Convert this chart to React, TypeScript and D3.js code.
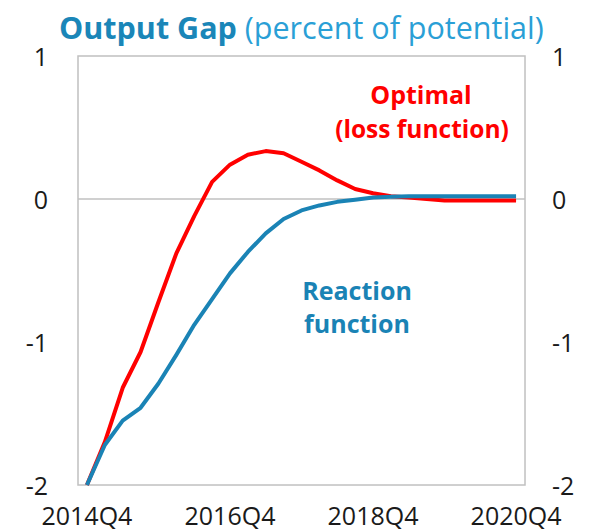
import React from "react";
import * as d3 from "d3";

const quarters = [
  "2014Q4", "2015Q1", "2015Q2", "2015Q3", "2015Q4",
  "2016Q1", "2016Q2", "2016Q3", "2016Q4",
  "2017Q1", "2017Q2", "2017Q3", "2017Q4",
  "2018Q1", "2018Q2", "2018Q3", "2018Q4",
  "2019Q1", "2019Q2", "2019Q3", "2019Q4",
  "2020Q1", "2020Q2", "2020Q3", "2020Q4",
];

const optimal = [
  -2.0, -1.7, -1.32, -1.07, -0.72, -0.38, -0.12, 0.12, 0.24, 0.31, 0.335, 0.32,
  0.26, 0.2, 0.13, 0.07, 0.04, 0.02, 0.01, 0.0, -0.01, -0.01, -0.01, -0.01, -0.01,
];

const reaction = [
  -2.0, -1.72, -1.55, -1.46, -1.29, -1.09, -0.88, -0.7, -0.52, -0.37, -0.24, -0.14,
  -0.08, -0.045, -0.02, -0.005, 0.01, 0.015, 0.02, 0.02, 0.02, 0.02, 0.02, 0.02, 0.02,
];

const xTickLabels = ["2014Q4", "2016Q4", "2018Q4", "2020Q4"];
const yTicks = [1, 0, -1, -2];

const RED = "#ff0000";
const BLUE = "#1a83b5";
const FONT = "'Open Sans', 'Noto Sans', sans-serif";

export default function App() {
  const W = 593;
  const H = 532;
  const left = 78;
  const right = 525;
  const top = 56;
  const bottom = 485;

  const x = d3.scaleBand<string>().domain(quarters).range([left, right]).padding(0);
  const cx = (q: string) => (x(q) as number) + x.bandwidth() / 2;
  const y = d3.scaleLinear().domain([-2, 1]).range([bottom, top]);

  const line = d3
    .line<number>()
    .x((_, i) => cx(quarters[i]))
    .y((v) => y(v));

  const fmt = (t: number) => (t < 0 ? `-${Math.abs(t)}` : `${t}`);

  return (
    <svg
      width={W}
      height={H}
      style={{ position: "absolute", left: 0, top: 0, background: "#fff" }}
      fontFamily={FONT}
    >
      <rect x={0} y={0} width={W} height={H} fill="#fff" />
      {/* title */}
      <text x={59} y={39} fontSize={30.5} fill="#1a86b8">
        <tspan fontWeight="bold">Output Gap</tspan>
        <tspan fill="#2a9fd6"> (percent of potential)</tspan>
      </text>

      {/* frame */}
      <rect
        x={left}
        y={top}
        width={right - left}
        height={bottom - top}
        fill="none"
        stroke="#c0c0c0"
        strokeWidth={1.5}
      />
      {/* zero line */}
      <line x1={left} x2={right} y1={y(0)} y2={y(0)} stroke="#c0c0c0" strokeWidth={1.5} />

      {/* y tick labels */}
      {yTicks.map((t) => (
        <g key={t}>
          <text x={48} y={y(t) + 9.5} fontSize={25} textAnchor="end" fill="#1a1a1a">
            {fmt(t)}
          </text>
          <text x={552} y={y(t) + 9.5} fontSize={25} textAnchor="start" fill="#1a1a1a">
            {fmt(t)}
          </text>
        </g>
      ))}

      {/* x tick labels */}
      {xTickLabels.map((q) => (
        <text key={q} x={cx(q)} y={525} fontSize={25} textAnchor="middle" fill="#1a1a1a">
          {q}
        </text>
      ))}

      {/* series */}
      <path d={line(optimal) || ""} fill="none" stroke={RED} strokeWidth={4} strokeLinejoin="round" />
      <path d={line(reaction) || ""} fill="none" stroke={BLUE} strokeWidth={4} strokeLinejoin="round" />

      {/* annotations */}
      <text x={421} y={103.5} fontSize={25} fontWeight="bold" fill={RED} textAnchor="middle">
        Optimal
      </text>
      <text x={422} y={137.5} fontSize={24.5} fontWeight="bold" fill={RED} textAnchor="middle">
        (loss function)
      </text>
      <text x={357} y={300} fontSize={25} fontWeight="bold" fill={BLUE} textAnchor="middle">
        Reaction
      </text>
      <text x={357} y={333} fontSize={25} fontWeight="bold" fill={BLUE} textAnchor="middle">
        function
      </text>
    </svg>
  );
}
